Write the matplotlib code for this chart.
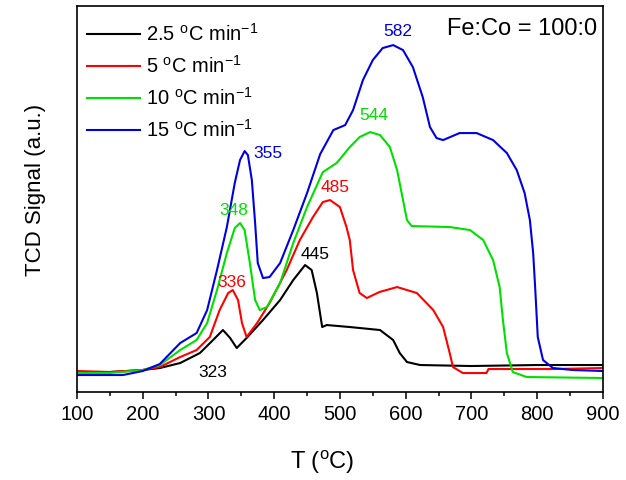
import matplotlib
matplotlib.use("Agg")
import matplotlib.pyplot as plt
from matplotlib.ticker import MultipleLocator

plt.rcParams['font.family'] = ['Liberation Sans', 'DejaVu Sans']
plt.rcParams['mathtext.fontset'] = 'custom'
plt.rcParams['mathtext.rm'] = 'Liberation Sans'
plt.rcParams['mathtext.it'] = 'Liberation Sans'

# TPR traces, signal in arbitrary units (height above the bottom of the frame)
t_25 = [100, 150, 200, 226, 257, 287, 307, 322, 333, 343, 358, 383, 409, 429, 447, 457, 465,
        473, 480, 515, 561, 581, 591, 602, 622, 700, 800, 900]
y_25 = [20, 20, 22, 24, 29, 39, 52, 62, 54, 44, 54, 72, 92, 112, 127, 122, 99,
        65, 67, 65, 62, 52, 39, 30, 27, 26, 27, 27]

t_5 = [100, 150, 200, 226, 257, 282, 302, 317, 330, 337, 345, 351, 358, 374, 393, 419, 439,
       459, 474, 485, 500, 510, 515, 520, 530, 541, 560, 587, 617, 642, 657, 667, 672, 687,
       723, 726, 825, 900]
y_5 = [21, 20, 22, 25, 35, 42, 55, 82, 99, 102, 92, 69, 55, 69, 89, 122, 152,
       175, 190, 192, 185, 165, 152, 122, 99, 94, 100, 105, 99, 82, 65, 39, 25, 19,
       19, 23, 23, 24]

t_10 = [100, 150, 200, 226, 257, 282, 298, 313, 328, 340, 348, 355, 363, 371, 378, 389, 409,
        429, 450, 474, 495, 515, 530, 546, 561, 576, 587, 596, 602, 609, 667, 698, 718, 733,
        743, 748, 754, 763, 784, 900]
y_10 = [19, 19, 22, 27, 42, 52, 69, 102, 139, 164, 169, 162, 129, 92, 82, 85, 109,
        149, 185, 220, 229, 245, 255, 260, 257, 245, 222, 192, 172, 166, 165, 162, 152, 132,
        105, 72, 39, 20, 15, 14]

t_15 = [100, 150, 170, 200, 226, 257, 282, 298, 313, 328, 340, 348, 355, 360, 366, 371, 375,
        383, 393, 409, 429, 450, 470, 490, 508, 520, 535, 550, 565, 581, 596, 611, 626, 637,
        647, 657, 682, 708, 733, 754, 769, 781, 789, 794, 797, 801, 809, 824, 854, 900]
y_15 = [17, 17, 17, 21, 28, 49, 59, 82, 122, 165, 209, 232, 241, 237, 212, 169, 129,
        114, 115, 129, 162, 199, 238, 262, 267, 282, 312, 332, 344, 347, 342, 325, 295, 265,
        254, 252, 259, 259, 252, 239, 222, 199, 172, 139, 105, 55, 32, 24, 22, 21]

labels = [r'2.5 $^{\mathrm{o}}$C min$^{\mathrm{-1}}$', r'5 $^{\mathrm{o}}$C min$^{\mathrm{-1}}$',
          r'10 $^{\mathrm{o}}$C min$^{\mathrm{-1}}$', r'15 $^{\mathrm{o}}$C min$^{\mathrm{-1}}$']
colors = ['#000000', '#ff0000', '#00e000', '#0000e0']

# peak labels: text, position (T, signal), colour index
peak_text = ['323', '336', '348', '355', '445', '485', '544', '582']
peak_t = [307, 336, 339, 390, 463, 492, 552, 588]
peak_y = [20, 110, 182, 239, 138, 205, 277, 361]
peak_c = [0, 1, 2, 3, 0, 1, 2, 3]


def main():
    fig = plt.figure(figsize=(6.26, 4.8), dpi=100)
    ax = fig.add_axes([0.123, 0.1833, 0.840, 0.804])

    for t, y, lab, c in zip([t_25, t_5, t_10, t_15], [y_25, y_5, y_10, y_15], labels, colors):
        ax.plot(t, y, color=c, lw=1.5, label=lab, solid_joinstyle='round')

    for s, t, y, ci in zip(peak_text, peak_t, peak_y, peak_c):
        ax.text(t, y, s, color=colors[ci], fontsize=12.5, ha='center', va='center')

    ax.text(0.990, 0.968, 'Fe:Co = 100:0', transform=ax.transAxes, fontsize=17,
            ha='right', va='top')

    ax.set_xlim(100, 900)
    ax.set_ylim(0, 386)
    ax.xaxis.set_major_locator(MultipleLocator(100))
    ax.xaxis.set_minor_locator(MultipleLocator(50))
    ax.tick_params(axis='x', which='major', direction='out', length=5, width=1.1,
                   labelsize=14.5, pad=4)
    ax.tick_params(axis='x', which='minor', direction='out', length=3, width=1.1)
    ax.set_yticks([])
    for sp in ax.spines.values():
        sp.set_linewidth(1.2)

    ax.set_xlabel(r'T ($^{\mathrm{o}}$C)', fontsize=17)
    ax.xaxis.set_label_coords(0.466, -0.148)
    ax.set_ylabel('TCD Signal (a.u.)', fontsize=16)
    ax.yaxis.set_label_coords(-0.059, 0.523)

    ax.legend(loc='upper left', bbox_to_anchor=(0.004, 0.977), borderaxespad=0,
              frameon=False, fontsize=14.5, handlelength=2.6, handletextpad=0.3,
              labelspacing=0.5)

    fig.savefig('out.png', dpi=100)


if __name__ == "__main__":
    main()
